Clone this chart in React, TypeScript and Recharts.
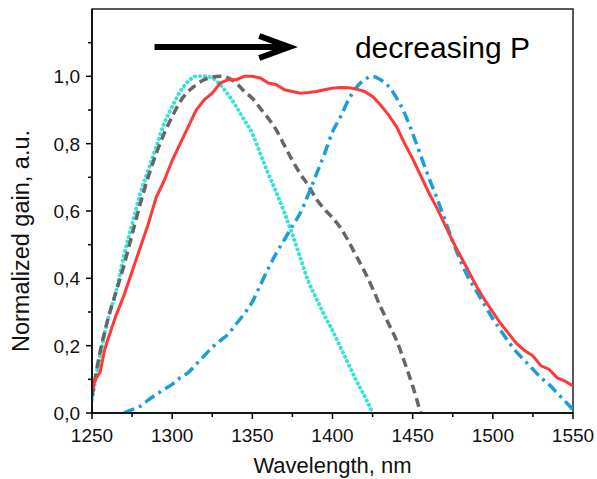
import React from 'react';
import {
  LineChart,
  Line,
  XAxis,
  YAxis,
  ReferenceLine,
  ReferenceDot,
  ReferenceArea,
} from 'recharts';

// wavelength grid (nm) and normalized gain for each pump level
const redWl = [1250, 1252, 1255, 1258, 1260, 1265, 1270, 1275, 1280, 1285, 1290, 1295, 1300, 1305, 1310, 1315, 1320, 1325, 1330, 1335, 1340, 1345, 1350, 1355, 1360, 1365, 1370, 1375, 1380, 1385, 1390, 1395, 1400, 1405, 1410, 1415, 1420, 1425, 1430, 1435, 1440, 1445, 1450, 1455, 1460, 1465, 1470, 1475, 1480, 1485, 1490, 1495, 1500, 1505, 1510, 1515, 1520, 1525, 1530, 1535, 1540, 1545, 1550];
const redGain = [0.065, 0.1, 0.12, 0.19, 0.22, 0.29, 0.35, 0.42, 0.49, 0.56, 0.64, 0.69, 0.75, 0.8, 0.85, 0.9, 0.93, 0.95, 0.98, 0.99, 0.99, 1.0, 1.0, 0.995, 0.98, 0.975, 0.96, 0.955, 0.95, 0.952, 0.955, 0.96, 0.965, 0.967, 0.966, 0.962, 0.955, 0.94, 0.915, 0.885, 0.85, 0.8, 0.755, 0.705, 0.655, 0.61, 0.56, 0.51, 0.465, 0.42, 0.375, 0.335, 0.3, 0.265, 0.235, 0.205, 0.185, 0.17, 0.14, 0.13, 0.105, 0.095, 0.08];

const cyanWl = [1250, 1255, 1260, 1265, 1270, 1275, 1280, 1285, 1290, 1295, 1300, 1305, 1310, 1315, 1320, 1325, 1330, 1335, 1340, 1345, 1350, 1355, 1360, 1365, 1370, 1375, 1380, 1385, 1390, 1395, 1400, 1405, 1410, 1415, 1420, 1425];
const cyanGain = [0.04, 0.17, 0.28, 0.36, 0.47, 0.56, 0.65, 0.72, 0.79, 0.86, 0.91, 0.955, 0.985, 1.0, 1.0, 0.995, 0.975, 0.945, 0.91, 0.87, 0.83, 0.77, 0.71, 0.655, 0.595, 0.53, 0.46, 0.39, 0.34, 0.29, 0.245, 0.195, 0.145, 0.095, 0.05, 0.0];

const grayWl = [1250, 1255, 1260, 1265, 1270, 1275, 1280, 1285, 1290, 1295, 1300, 1305, 1310, 1315, 1320, 1325, 1330, 1335, 1340, 1345, 1350, 1355, 1360, 1365, 1370, 1375, 1380, 1385, 1390, 1395, 1400, 1405, 1410, 1415, 1420, 1425, 1430, 1435, 1440, 1445, 1450, 1455];
const grayGain = [0.05, 0.18, 0.28, 0.36, 0.44, 0.53, 0.62, 0.7, 0.77, 0.83, 0.88, 0.925, 0.955, 0.975, 0.99, 0.998, 1.0, 0.995, 0.98, 0.955, 0.935, 0.905, 0.875, 0.84, 0.795, 0.75, 0.71, 0.675, 0.635, 0.605, 0.58, 0.55, 0.51, 0.465, 0.42, 0.37, 0.315, 0.265, 0.215, 0.15, 0.08, 0.0];

const blueWl = [1270, 1275, 1280, 1285, 1290, 1295, 1300, 1305, 1310, 1315, 1320, 1325, 1330, 1335, 1340, 1345, 1350, 1355, 1360, 1365, 1370, 1375, 1380, 1385, 1390, 1395, 1400, 1405, 1410, 1415, 1420, 1425, 1430, 1435, 1440, 1445, 1450, 1455, 1460, 1465, 1470, 1475, 1480, 1485, 1490, 1495, 1500, 1505, 1510, 1515, 1520, 1525, 1530, 1535, 1540, 1545, 1550];
const blueGain = [0.0, 0.01, 0.02, 0.038, 0.055, 0.07, 0.085, 0.105, 0.12, 0.145, 0.17, 0.195, 0.215, 0.235, 0.265, 0.295, 0.33, 0.38, 0.43, 0.475, 0.515, 0.555, 0.595, 0.65, 0.71, 0.77, 0.835, 0.88, 0.93, 0.968, 0.99, 1.0, 0.99, 0.97, 0.935, 0.89, 0.83, 0.765, 0.7, 0.64, 0.575, 0.51, 0.45, 0.4, 0.36, 0.32, 0.28, 0.245, 0.21, 0.18, 0.155, 0.13, 0.105, 0.085, 0.06, 0.035, 0.01];

const xTicks = [1250, 1275, 1300, 1325, 1350, 1375, 1400, 1425, 1450, 1475, 1500, 1525, 1550];
const yTicks = [0, 0.1, 0.2, 0.3, 0.4, 0.5, 0.6, 0.7, 0.8, 0.9, 1.0, 1.1];

// arrow annotation endpoints and label anchor, in data units
const arrowFrom = { x: 1289, y: 1.087 };
const arrowTo = { x: 1378, y: 1.087 };
const noteAt = { x: 1414, y: 1.053 };
const noteText = 'decreasing P';

const FONT = '"Liberation Sans", Arial, sans-serif';

const toPoints = (wl: number[], gain: number[]) =>
  wl.map((w, i) => ({ wl: w, gain: gain[i] }));

const redData = toPoints(redWl, redGain);
const cyanData = toPoints(cyanWl, cyanGain);
const grayData = toPoints(grayWl, grayGain);
const blueData = toPoints(blueWl, blueGain);

const XTick = ({ x, y, payload }: any) => {
  const major = payload.value % 50 === 0;
  return (
    <g>
      <line x1={x} x2={x} y1={y} y2={y + (major ? 6 : 4)} stroke="#000" strokeWidth={1.5} />
      {major && (
        <text x={x} y={y + 29} textAnchor="middle" fontSize={19} fontFamily={FONT} fill="#111">
          {payload.value}
        </text>
      )}
    </g>
  );
};

const YTick = ({ x, y, payload }: any) => {
  const v = payload.value;
  const major = Math.round(v * 10) % 2 === 0;
  return (
    <g>
      <line x1={x} x2={x - (major ? 6 : 4)} y1={y} y2={y} stroke="#000" strokeWidth={1.5} />
      {major && (
        <text x={x - 12} y={y + 7} textAnchor="end" fontSize={19} fontFamily={FONT} fill="#111">
          {v.toFixed(1).replace('.', ',')}
        </text>
      )}
    </g>
  );
};

// x-axis title, placed under the tick labels
const XTitle = ({ viewBox }: any) => (
  <text
    x={viewBox.x + viewBox.width / 2}
    y={viewBox.y + 60}
    textAnchor="middle"
    fontSize={22}
    fontFamily={FONT}
    fill="#111"
  >
    Wavelength, nm
  </text>
);

const YTitle = ({ viewBox }: any) => {
  const cx = viewBox.x + 29;
  const cy = viewBox.y + viewBox.height / 2 + 30;
  return (
    <text
      x={cx}
      y={cy}
      transform={`rotate(-90 ${cx} ${cy})`}
      textAnchor="middle"
      fontSize={23.5}
      fontFamily={FONT}
      fill="#111"
    >
      Normalized gain, a.u.
    </text>
  );
};

// thick shaft with an open chevron head; the miter tip lands on x2
const Arrow = ({ x1, y1, x2, y2 }: any) => (
  <g stroke="#000" strokeWidth={6} fill="none">
    <line x1={x1} y1={y1} x2={x2 - 8} y2={y2} />
    <polyline points={`${x2 - 38},${y2 - 11} ${x2 - 8},${y2} ${x2 - 38},${y2 + 11}`} strokeLinejoin="miter" />
  </g>
);

const Note = ({ cx, cy }: any) => (
  <text x={cx} y={cy} fontSize={30} fontFamily={FONT} fill="#000">
    {noteText}
  </text>
);

const App = () => {
  return (
    <div style={{ position: 'absolute', left: 0, top: 0, background: '#fff' }}>
      <LineChart width={597} height={479} margin={{ top: 9, right: 24, bottom: 0, left: 0 }}>
        <XAxis
          xAxisId="b"
          dataKey="wl"
          type="number"
          domain={[1250, 1550]}
          ticks={xTicks}
          interval={0}
          allowDataOverflow
          tickLine={false}
          tickSize={0}
          tickMargin={0}
          tick={<XTick />}
          axisLine={{ stroke: '#000', strokeWidth: 1.5 }}
          height={66}
          label={<XTitle />}
        />
        <YAxis
          yAxisId="l"
          type="number"
          domain={[0, 1.2]}
          ticks={yTicks}
          interval={0}
          allowDataOverflow
          tickLine={false}
          tickSize={0}
          tickMargin={0}
          tick={<YTick />}
          width={92}
          axisLine={{ stroke: '#000', strokeWidth: 1.5 }}
          label={<YTitle />}
        />
        <ReferenceArea
          xAxisId="b"
          yAxisId="l"
          x1={1250}
          x2={1550}
          y1={0}
          y2={1.2}
          fill="none"
          stroke="#222"
          strokeWidth={1.5}
          fillOpacity={0}
        />
        <Line
          xAxisId="b"
          yAxisId="l"
          data={cyanData}
          dataKey="gain"
          type="monotone"
          stroke="#38e2d4"
          strokeWidth={4}
          strokeDasharray="0.1 4.8"
          strokeLinecap="round"
          dot={false}
          isAnimationActive={false}
        />
        <Line
          xAxisId="b"
          yAxisId="l"
          data={grayData}
          dataKey="gain"
          type="monotone"
          stroke="#666666"
          strokeWidth={3.5}
          strokeDasharray="9 5"
          dot={false}
          isAnimationActive={false}
        />
        <Line
          xAxisId="b"
          yAxisId="l"
          data={blueData}
          dataKey="gain"
          type="monotone"
          stroke="#1a9edb"
          strokeWidth={3.5}
          strokeDasharray="11 5 3 5"
          dot={false}
          isAnimationActive={false}
        />
        <Line
          xAxisId="b"
          yAxisId="l"
          data={redData}
          dataKey="gain"
          type="linear"
          stroke="#ff3838"
          strokeWidth={3}
          dot={false}
          isAnimationActive={false}
        />
        <ReferenceLine
          xAxisId="b"
          yAxisId="l"
          segment={[arrowFrom, arrowTo]}
          shape={<Arrow />}
        />
        <ReferenceDot
          xAxisId="b"
          yAxisId="l"
          x={noteAt.x}
          y={noteAt.y}
          r={0}
          shape={<Note />}
        />
      </LineChart>
    </div>
  );
};

export default App;
